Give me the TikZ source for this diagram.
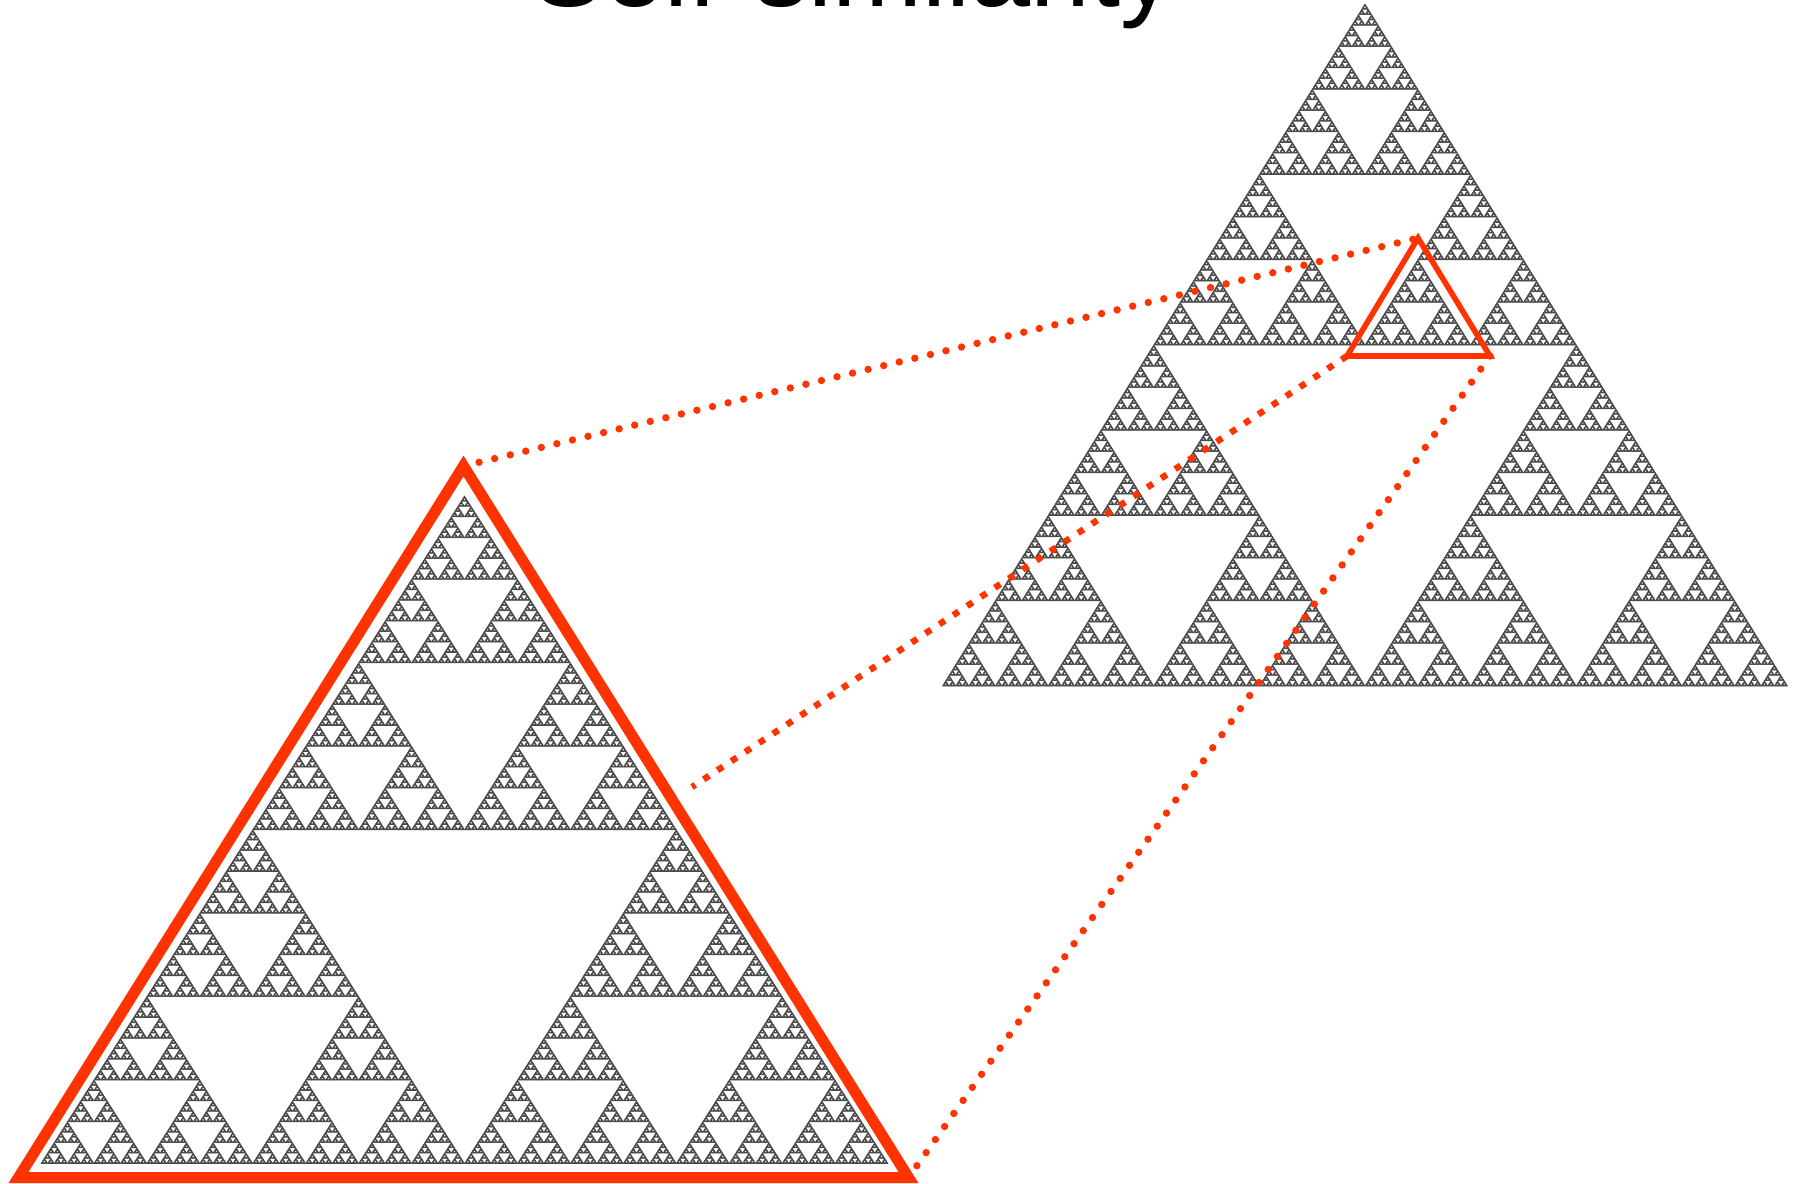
\documentclass[tikz,border=0pt]{standalone}
\usepackage{fontspec}
\setmainfont{Liberation Sans}
\definecolor{vermilion}{HTML}{FF3300}
\definecolor{fractalgray}{HTML}{4A4A4A}

% recursive Sierpinski: depth, x, y (lower-left), base width, height
\newcommand\sierpTri[5]{%
  \ifnum#1=0
    \pgfpathmoveto{\pgfqpoint{#2}{#3}}%
    \pgfpathlineto{\pgfqpoint{\dimexpr#2+#4\relax}{#3}}%
    \pgfpathlineto{\pgfqpoint{\dimexpr#2+#4/2\relax}{\dimexpr#3+#5\relax}}%
    \pgfpathclose
  \else
    \sierpSplit{#1}{#2}{#3}{#4}{#5}%
  \fi}
\newcommand\sierpSplit[5]{%
  \begingroup
  \edef\sHs{\the\dimexpr#4/2\relax}%
  \edef\sHh{\the\dimexpr#5/2\relax}%
  \edef\sXm{\the\dimexpr#2+#4/2\relax}%
  \edef\sXq{\the\dimexpr#2+#4/4\relax}%
  \edef\sYm{\the\dimexpr#3+#5/2\relax}%
  \edef\sD{\the\numexpr#1-1\relax}%
  \edef\sNext{%
    \noexpand\sierpTri{\sD}{#2}{#3}{\sHs}{\sHh}%
    \noexpand\sierpTri{\sD}{\sXm}{#3}{\sHs}{\sHh}%
    \noexpand\sierpTri{\sD}{\sXq}{\sYm}{\sHs}{\sHh}%
    \ifnum#1=3 \noexpand\pgfusepath{fill,stroke}\fi}%
  \expandafter\endgroup\sNext}

\begin{document}
\begin{tikzpicture}[x=0.5pt,y=-0.5pt,
  frame/.style={draw=vermilion, line width=5.5pt, line join=miter},
  smallframe/.style={draw=vermilion, line width=2.8pt, line join=miter},
  rounddots/.style={draw=vermilion, line width=3.7pt, line cap=round, dash pattern=on 0pt off 8pt},
  squaredots/.style={draw=vermilion, line width=3.2pt, line cap=butt, dash pattern=on 3.3pt off 5pt},
  titletext/.style={font=\fontsize{54}{62}\selectfont, anchor=base west, inner sep=0pt}]
\useasboundingbox (0,0) rectangle (1798,1183);
\clip (0,0) rectangle (1798,1183);

% title (cut off by the top edge, as in the original)
\node[titletext] (title) at (532,6) {Self-similarity};

% the two fractals (drawn at pgf level, 1px = 0.5pt, y downwards negative)
\begin{scope}
  \pgfsetfillcolor{fractalgray}
  \pgfsetstrokecolor{fractalgray}
  \pgfsetlinewidth{0.3pt}
  \pgfsetroundjoin
  \sierpTri{8}{471.25pt}{-343pt}{422.5pt}{341pt}
  \sierpTri{8}{20.5pt}{-581.75pt}{423.5pt}{333.75pt}
\end{scope}

% corners
\coordinate (bigA) at (463.5,466);
\coordinate (bigL) at (18.5,1177.5);
\coordinate (bigR) at (908.5,1177.5);
\coordinate (smA) at (1418,238);
\coordinate (smL) at (1347,356);
\coordinate (smR) at (1490,356);
\coordinate (cut) at (692,787);

% perspective lines
\draw[rounddots] (bigA) -- (smA);
\draw[squaredots] (smL) -- (cut);
\draw[rounddots] (smR) -- (bigR);

% frames
\draw[frame] (bigA) -- (bigR) -- (bigL) -- cycle;
\draw[smallframe] (smA) -- (smR) -- (smL) -- cycle;
\end{tikzpicture}
\end{document}
